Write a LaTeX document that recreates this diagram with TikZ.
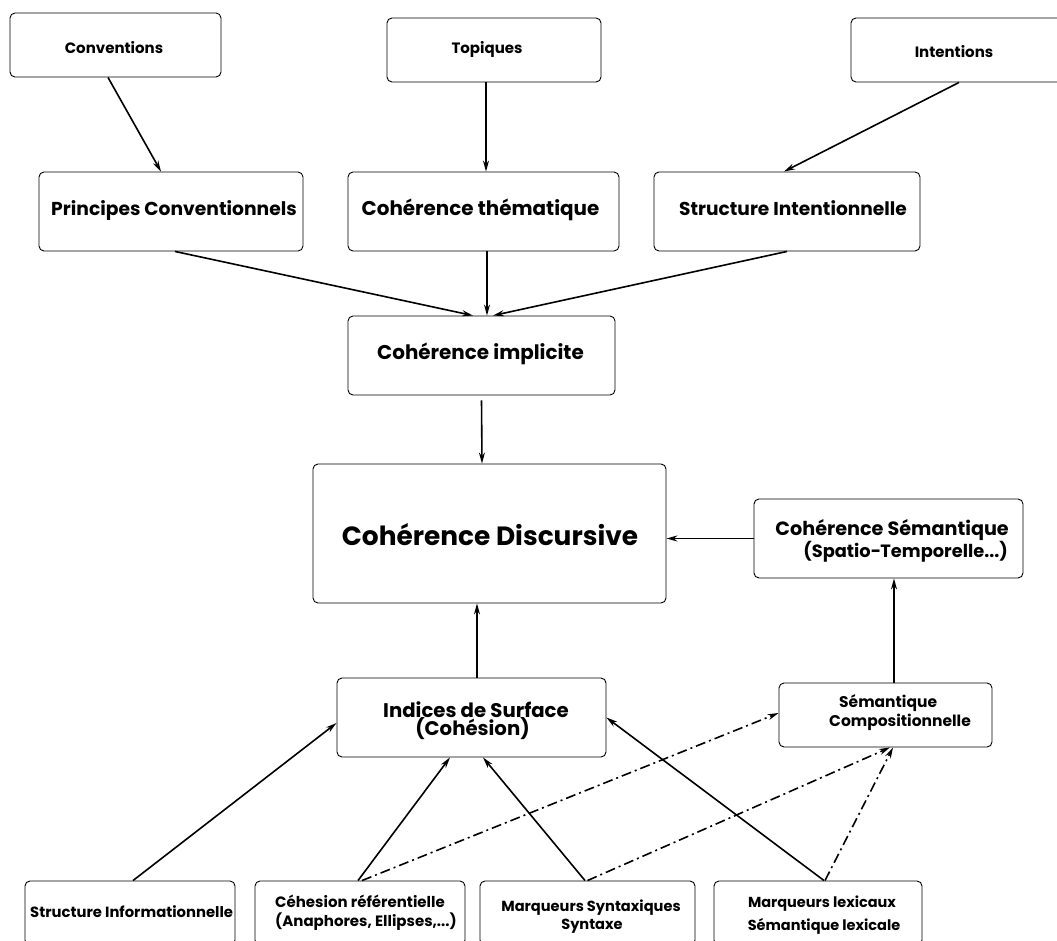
\documentclass[tikz,border=0pt]{standalone}
\usepackage{fontspec}
\setmainfont{Poppins}
\usetikzlibrary{arrows.meta,calc}
\tikzset{
  box/.style={draw, rounded corners=5pt, line width=0.9pt, inner sep=0pt},
  lbl/.style={anchor=base, inner sep=0pt, font=\bfseries},
  arr/.style={-{Stealth[length=11pt,width=6pt]}, line width=1.6pt},
  dd/.style={arr, dash pattern=on 10pt off 4pt on 2pt off 4pt},
}
\newcommand{\fs}[1]{\fontsize{#1}{#1}\selectfont}
\begin{document}
\begin{tikzpicture}[x=1pt, y=-1pt]
\useasboundingbox (0,0) rectangle (1057,941);
% boxes
\node[box, minimum width=211pt, minimum height=64pt] (conv) at (115.5,45) {};
\node[box, minimum width=214pt, minimum height=64pt] (top) at (494,50) {};
\node[box, minimum width=214pt, minimum height=64pt] (intent) at (958,50) {};
\node[box, minimum width=264pt, minimum height=79pt] (princ) at (171,211.5) {};
\node[box, minimum width=271pt, minimum height=79pt] (them) at (483.5,211.5) {};
\node[box, minimum width=266pt, minimum height=79pt] (sint) at (787,211.5) {};
\node[box, minimum width=267pt, minimum height=79pt] (impl) at (481.5,355.5) {};
\node[box, minimum width=353pt, minimum height=139pt] (disc) at (489.5,533.5) {};
\node[box, minimum width=269pt, minimum height=79pt] (sem) at (888.5,538.5) {};
\node[box, minimum width=213pt, minimum height=64pt] (comp) at (885.5,715) {};
\node[box, minimum width=269pt, minimum height=79pt] (ind) at (471.5,717.5) {};
\node[box, minimum width=210pt, minimum height=64pt] (b1) at (130,913) {};
\node[box, minimum width=210pt, minimum height=64pt] (b2) at (360,913) {};
\node[box, minimum width=215pt, minimum height=64pt] (b3) at (587.5,913) {};
\node[box, minimum width=208pt, minimum height=64pt] (b4) at (818,913) {};
% labels
\node[lbl, font=\bfseries\fs{15}] (conv-t) at (114,53.5) {Conventions};
\node[lbl, font=\bfseries\fs{15}] (top-t) at (487,54) {Topiques};
\node[lbl, font=\bfseries\fs{15}] (intent-t) at (954,58) {Intentions};
\node[lbl, font=\bfseries\fs{18.7}] (princ-t) at (174,216) {Principes Conventionnels};
\node[lbl, font=\bfseries\fs{19.9}] (them-t) at (480.5,216) {Cohérence thématique};
\node[lbl, font=\bfseries\fs{18.6}] (sint-t) at (793,216) {Structure Intentionnelle};
\node[lbl, font=\bfseries\fs{19.9}] (impl-t) at (480.5,359) {Cohérence implicite};
\node[lbl, font=\bfseries\fs{26.4}] (disc-t) at (490,545) {Cohérence Discursive};
\node[lbl, font=\bfseries\fs{19.2}, anchor=base east] (sem-t1) at (1009,535) {Cohérence Sémantique};
\node[lbl, font=\bfseries\fs{17.8}, anchor=base east] (sem-t2) at (1008,557) {(Spatio−Temporelle...)};
\node[lbl, font=\bfseries\fs{15.5}, anchor=base west] (comp-t1) at (839,707) {Sémantique};
\node[lbl, font=\bfseries\fs{15.5}, anchor=base west] (comp-t2) at (829,726) {Compositionnelle};
\node[lbl, font=\bfseries\fs{19.7}] (ind-t1) at (476,717) {Indices de Surface};
\node[lbl, font=\bfseries\fs{19.7}] (ind-t2) at (472.5,735) {(Cohésion)};
\node[lbl, font=\bfseries\fs{14.8}, anchor=base west] (b1-t) at (30,917) {Structure Informationnelle};
\node[lbl, font=\bfseries\fs{15}, anchor=base west] (b2-t1) at (275,907) {Céhesion référentielle};
\node[lbl, font=\bfseries\fs{15}, anchor=base west] (b2-t2) at (275,926) {(Anaphores, Ellipses,...)};
\node[lbl, font=\bfseries\fs{14.6}] (b3-t1) at (591,911) {Marqueurs Syntaxiques};
\node[lbl, font=\bfseries\fs{14.6}] (b3-t2) at (592,929) {Syntaxe};
\node[lbl, font=\bfseries\fs{14.5}] (b4-t1) at (822,907) {Marqueurs lexicaux};
\node[lbl, font=\bfseries\fs{14.5}] (b4-t2) at (824,930) {Sémantique lexicale};
% arrows
\draw[arr] ([xshift=-7.5pt]conv.south) -- ([xshift=-10pt]princ.north);
\draw[arr] ([xshift=-8pt]top.south) -- ([xshift=2.5pt]them.north);
\draw[arr] ([xshift=1pt]intent.south) -- ([xshift=-3pt]sint.north);
\draw[arr] ([xshift=4pt]princ.south) -- ([xshift=-8.5pt]impl.north);
\draw[arr] ([xshift=3.5pt]them.south) -- ([xshift=5.5pt]impl.north);
\draw[arr] (sint.south) -- ([xshift=11.5pt]impl.north);
\draw[arr] ([yshift=-5pt]impl.south) -- ([xshift=-7.5pt]disc.north);
\draw[arr] (sem.west) -- ([yshift=-5pt]disc.east);
\draw[arr] ([xshift=8.5pt]comp.north) -- ([xshift=5.5pt]sem.south);
\draw[arr] ([xshift=5.5pt]ind.north) -- ([xshift=-12.5pt]disc.south);
\draw[arr] ([xshift=3pt]b1.north) -- ([yshift=-5.5pt]ind.west);
\draw[arr] ([xshift=-2pt]b2.north) -- ([xshift=-21.5pt]ind.south);
\draw[arr] ([xshift=-2.5pt]b3.north) -- ([xshift=11.5pt]ind.south);
\draw[arr] ([xshift=6pt]b4.north) -- (ind.east);
\draw[dd] ([xshift=2pt]b2.north) -- ([yshift=2pt]comp.west);
\draw[dd] (b3.north) -- ([xshift=4.5pt]comp.south);
\draw[dd] ([xshift=7pt]b4.north) -- ([xshift=7.5pt]comp.south);
\end{tikzpicture}
\end{document}
